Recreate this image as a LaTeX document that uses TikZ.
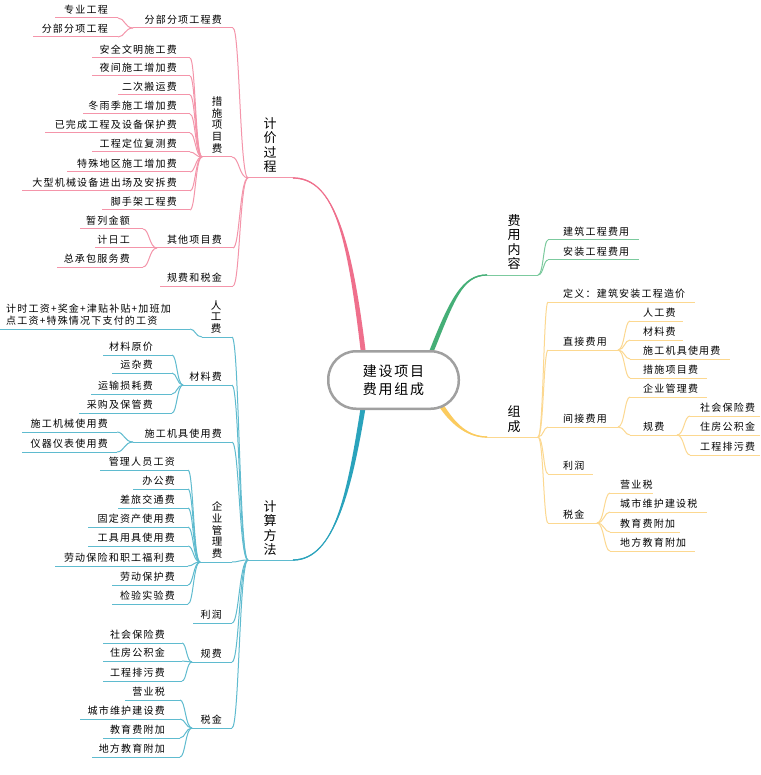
\documentclass[tikz,border=0pt]{standalone}
\usepackage{fontspec}
\newfontfamily\cjk{Noto Sans CJK SC}
\newfontfamily\cjkls{Noto Sans CJK SC}[LetterSpace=12]
\usetikzlibrary{calc,backgrounds}
\definecolor{pkM}{HTML}{EF6F8C}
\definecolor{pkL}{HTML}{F495AA}
\definecolor{tlM}{HTML}{2AA3BC}
\definecolor{tlL}{HTML}{5FBBCF}
\definecolor{gnM}{HTML}{45AF77}
\definecolor{gnL}{HTML}{7CCA9E}
\definecolor{ywM}{HTML}{FBCB5E}
\definecolor{ywL}{HTML}{FCD890}
\definecolor{rootgray}{HTML}{A0A0A0}
\newcommand\lffont{\cjkls\fontsize{10}{12}\selectfont}
\newcommand\mmfont{\cjk\fontsize{13}{14.6}\selectfont}
\newcommand\ssfont{\cjk\fontsize{10.5}{11.6}\selectfont}
\newcommand\rtfont{\cjkls\fontsize{14}{17.5}\selectfont}
\tikzset{
  leaf/.style={inner sep=0pt, text depth=4.2pt, font=\lffont},
  vmain/.style={inner sep=0pt, align=center, font=\mmfont},
  vsub/.style={inner sep=0pt, align=center, font=\ssfont},
  ln/.style={draw=black, line width=1pt},
  rootbox/.style={draw=rootgray, line width=2.5pt, fill=white, rounded corners=28pt,
    minimum width=130.5pt, minimum height=57.5pt, inner sep=0pt, font=\rtfont, align=center},
}
\newcommand\Ln[6]{\node[leaf,anchor=south east] (#1) at (#2,#3) {#6};
  \draw[ln] (#4,#3) coordinate (#1H) -- (#5,#3) coordinate (#1E);}
\newcommand\Rn[6]{\node[leaf,anchor=south west] (#1) at (#2,#3) {#6};
  \draw[ln] (#4,#3) coordinate (#1W) -- (#5,#3) coordinate (#1H);}
\newcommand\cn[2]{\draw[ln] (#1) .. controls ($(#1)!0.55!(#1-|#2)$) and ($(#1|-#2)!0.55!(#2)$) .. (#2);}
\begin{document}
\begin{tikzpicture}[x=1pt,y=-1pt]
\useasboundingbox (0,0) rectangle (760,775);

\node[rootbox] (root) at (393.5,380) {建设项目\\费用组成};

% ---------------- PINK : 计价过程 ----------------
\begin{scope}[ln/.style={draw=pkL, line width=1pt}]
\coordinate (pkJ) at (293,178);
\coordinate (pkH) at (248,178);
\draw[ln] (pkJ) -- (pkH);
\node[vmain] (jjgc) at (270,145) {计\\价\\过\\程};

\Ln{fbfx}{222}{28}{133}{233}{分部分项工程费}
\Ln{zygc}{108}{18}{55}{118}{专业工程}
\Ln{fbgc}{108}{37}{33}{118}{分部分项工程}
\cn{pkH}{fbfxE}
\cn{fbfxH}{zygcE}
\cn{fbfxH}{fbgcE}

\coordinate (csH) at (202,157);
\draw[ln] (csH) -- (232,157) coordinate (csE);
\node[vsub] (cs) at (217,125) {措\\施\\项\\目\\费};
\cn{pkH}{csE}
\Ln{csa}{177}{58}{92}{190}{安全文明施工费}
\Ln{csb}{177}{76}{92}{190}{夜间施工增加费}
\Ln{csc}{177}{95}{118}{190}{二次搬运费}
\Ln{csd}{177}{114}{83}{190}{冬雨季施工增加费}
\Ln{cse}{177}{133}{45}{190}{已完成工程及设备保护费}
\Ln{csf}{177}{152}{92}{190}{工程定位复测费}
\Ln{csg}{177}{172}{67}{190}{特殊地区施工增加费}
\Ln{csh}{177}{191}{22}{190}{大型机械设备进出场及安拆费}
\Ln{csi}{177}{210}{102}{190}{脚手架工程费}
\cn{csH}{csaE}
\cn{csH}{csbE}
\cn{csH}{cscE}
\cn{csH}{csdE}
\cn{csH}{cseE}
\cn{csH}{csfE}
\cn{csH}{csgE}
\cn{csH}{cshE}
\cn{csH}{csiE}

\Ln{qt}{222}{248}{157}{233}{其他项目费}
\cn{pkH}{qtE}
\Ln{qta}{130}{229}{80}{143}{暂列金额}
\Ln{qtb}{130}{248}{95}{143}{计日工}
\Ln{qtc}{130}{267}{57}{143}{总承包服务费}
\cn{qtH}{qtaE}
\cn{qtH}{qtbE}
\cn{qtH}{qtcE}

\Ln{gfsj}{222}{286}{160}{233}{规费和税金}
\cn{pkH}{gfsjE}
\end{scope}

% ---------------- TEAL : 计算方法 ----------------
\begin{scope}[ln/.style={draw=tlL, line width=1pt}]
\coordinate (tlJ) at (293,560);
\coordinate (tlH) at (248,560);
\draw[ln] (tlJ) -- (tlH);
\node[vmain] (jsff) at (270,528) {计\\算\\方\\法};

\coordinate (rgH) at (202,337);
\draw[ln] (rgH) -- (232,337) coordinate (rgE);
\node[vsub] (rg) at (216,317) {人\\工\\费};
\cn{tlH}{rgE}
\node[leaf, align=left, anchor=south west] (rgx) at (6,329) {计时工资+奖金+津贴补贴+加班加\\点工资+特殊情况下支付的工资};
\draw[ln] (0,329) -- (190,329) coordinate (rgxE);
\cn{rgH}{rgxE}

\Ln{cl}{222}{385}{183}{232}{材料费}
\cn{tlH}{clE}
\Ln{cla}{153}{355}{103}{172}{材料原价}
\Ln{clb}{153}{373}{112}{172}{运杂费}
\Ln{clc}{153}{394}{91}{172}{运输损耗费}
\Ln{cld}{153}{413}{79}{172}{采购及保管费}
\cn{clH}{claE}
\cn{clH}{clbE}
\cn{clH}{clcE}
\cn{clH}{cldE}

\Ln{jj}{222}{442}{133}{232}{施工机具使用费}
\cn{tlH}{jjE}
\Ln{jja}{108}{432}{22}{117}{施工机械使用费}
\Ln{jjb}{108}{452}{22}{117}{仪器仪表使用费}
\cn{jjH}{jjaE}
\cn{jjH}{jjbE}

\coordinate (qyH) at (200,562);
\draw[ln] (qyH) -- (232,562) coordinate (qyE);
\node[vsub] (qy) at (217,530) {企\\业\\管\\理\\费};
\cn{tlH}{qyE}
\Ln{qya}{175}{470}{100}{188}{管理人员工资}
\Ln{qyb}{175}{489}{133}{188}{办公费}
\Ln{qyc}{175}{508}{118}{188}{差旅交通费}
\Ln{qyd}{175}{527}{88}{188}{固定资产使用费}
\Ln{qye}{175}{546}{88}{188}{工具用具使用费}
\Ln{qyf}{175}{566}{55}{188}{劳动保险和职工福利费}
\Ln{qyg}{175}{585}{112}{188}{劳动保护费}
\Ln{qyh}{175}{604}{112}{188}{检验实验费}
\cn{qyH}{qyaE}
\cn{qyH}{qybE}
\cn{qyH}{qycE}
\cn{qyH}{qydE}
\cn{qyH}{qyeE}
\cn{qyH}{qyfE}
\cn{qyH}{qygE}
\cn{qyH}{qyhE}

\Ln{lr}{222}{623}{193}{232}{利润}
\cn{tlH}{lrE}

\Ln{gf}{222}{662}{192}{232}{规费}
\cn{tlH}{gfE}
\Ln{gfa}{165}{643}{103}{182}{社会保险费}
\Ln{gfb}{165}{661}{103}{182}{住房公积金}
\Ln{gfc}{165}{681}{103}{182}{工程排污费}
\cn{gfH}{gfaE}
\cn{gfH}{gfbE}
\cn{gfH}{gfcE}

\Ln{sj}{222}{728}{192}{232}{税金}
\cn{tlH}{sjE}
\Ln{sja}{165}{700}{125}{180}{营业税}
\Ln{sjb}{165}{719}{80}{180}{城市维护建设费}
\Ln{sjc}{165}{738}{103}{180}{教育费附加}
\Ln{sjd}{165}{757}{92}{180}{地方教育附加}
\cn{sjH}{sjaE}
\cn{sjH}{sjbE}
\cn{sjH}{sjcE}
\cn{sjH}{sjdE}
\end{scope}

% ---------------- GREEN : 费用内容 ----------------
\begin{scope}[ln/.style={draw=gnL, line width=1pt}]
\coordinate (gnJ) at (487,275);
\coordinate (gnH) at (538,275);
\draw[ln] (gnJ) -- (gnH);
\node[vmain] (fynr) at (514,242) {费\\用\\内\\容};
\Rn{jz}{563}{240}{548}{639}{建筑工程费用}
\Rn{az}{563}{260}{548}{639}{安装工程费用}
\cn{gnH}{jzW}
\cn{gnH}{azW}
\end{scope}

% ---------------- YELLOW : 组成 ----------------
\begin{scope}[ln/.style={draw=ywL, line width=1pt}]
\coordinate (ywJ) at (487,437);
\coordinate (ywH) at (538,437);
\draw[ln] (ywJ) -- (ywH);
\node[vmain] (zc) at (514,419) {组\\成};

\Rn{dy}{563}{302}{548}{695}{定义：建筑安装工程造价}
\cn{ywH}{dyW}

\Rn{zj}{563}{350}{548}{618}{直接费用}
\cn{ywH}{zjW}
\Rn{zja}{643}{321}{630}{683}{人工费}
\Rn{zjb}{643}{340}{630}{683}{材料费}
\Rn{zjc}{643}{359}{630}{730}{施工机具使用费}
\Rn{zjd}{643}{378}{630}{707}{措施项目费}
\cn{zjH}{zjaW}
\cn{zjH}{zjbW}
\cn{zjH}{zjcW}
\cn{zjH}{zjdW}

\Rn{jf}{563}{427}{548}{618}{间接费用}
\cn{ywH}{jfW}
\Rn{jfa}{643}{397}{630}{707}{企业管理费}
\Rn{jfb}{643}{435}{630}{677}{规费}
\cn{jfH}{jfaW}
\cn{jfH}{jfbW}
\Rn{yga}{700}{416}{690}{760}{社会保险费}
\Rn{ygb}{700}{435}{690}{760}{住房公积金}
\Rn{ygc}{700}{455}{690}{760}{工程排污费}
\cn{jfbH}{ygaW}
\cn{jfbH}{ygbW}
\cn{jfbH}{ygcW}

\Rn{ylr}{563}{474}{548}{593}{利润}
\cn{ywH}{ylrW}

\Rn{ysj}{563}{523}{548}{597}{税金}
\cn{ywH}{ysjW}
\Rn{ysa}{620}{493}{610}{653}{营业税}
\Rn{ysb}{620}{512}{610}{707}{城市维护建设税}
\Rn{ysc}{620}{532}{610}{680}{教育费附加}
\Rn{ysd}{620}{551}{610}{695}{地方教育附加}
\cn{ysjH}{ysaW}
\cn{ysjH}{ysbW}
\cn{ysjH}{yscW}
\cn{ysjH}{ysdW}
\end{scope}

% ---------------- root branches (behind the root) ----------------
\begin{scope}[on background layer]
\fill[white] (0,0) rectangle (760,775);
% pink
\coordinate (pkS) at (364,358);
\fill[pkM] (361.5,358) .. controls (347.8,240) and (335,177.3) .. (293,177.4) -- (293,178.6) .. controls (335,178.7) and (352.2,240) .. (366.5,358) -- cycle;
\draw[pkM, line width=1.2pt] (pkS) .. controls (350,240) and (335,178) .. (pkJ);
% teal
\coordinate (tlS) at (364,402);
\fill[tlM] (361.5,402) .. controls (347.8,490) and (335,560.7) .. (293,560.6) -- (293,559.4) .. controls (335,559.3) and (352.2,490) .. (366.5,402) -- cycle;
\draw[tlM, line width=1.2pt] (tlS) .. controls (350,490) and (335,560) .. (tlJ);
% green
\coordinate (gnS) at (430,355);
\fill[gnM] (427.7,355) .. controls (449.7,299) and (462,274.3) .. (487,274.4) -- (487,275.6) .. controls (462,275.7) and (454.3,301) .. (432.3,355) -- cycle;
\draw[gnM, line width=1.2pt] (gnS) .. controls (452,300) and (462,275) .. (gnJ);
% yellow
\coordinate (ywS) at (439,402);
\fill[ywM] (441.1,400.7) .. controls (452,418.7) and (465,436.4) .. (487,436.4) -- (487,437.6) .. controls (465,437.6) and (448,421.3) .. (436.9,403.3) -- cycle;
\draw[ywM, line width=1.2pt] (ywS) .. controls (450,420) and (465,437) .. (ywJ);
\end{scope}
\end{tikzpicture}
\end{document}
